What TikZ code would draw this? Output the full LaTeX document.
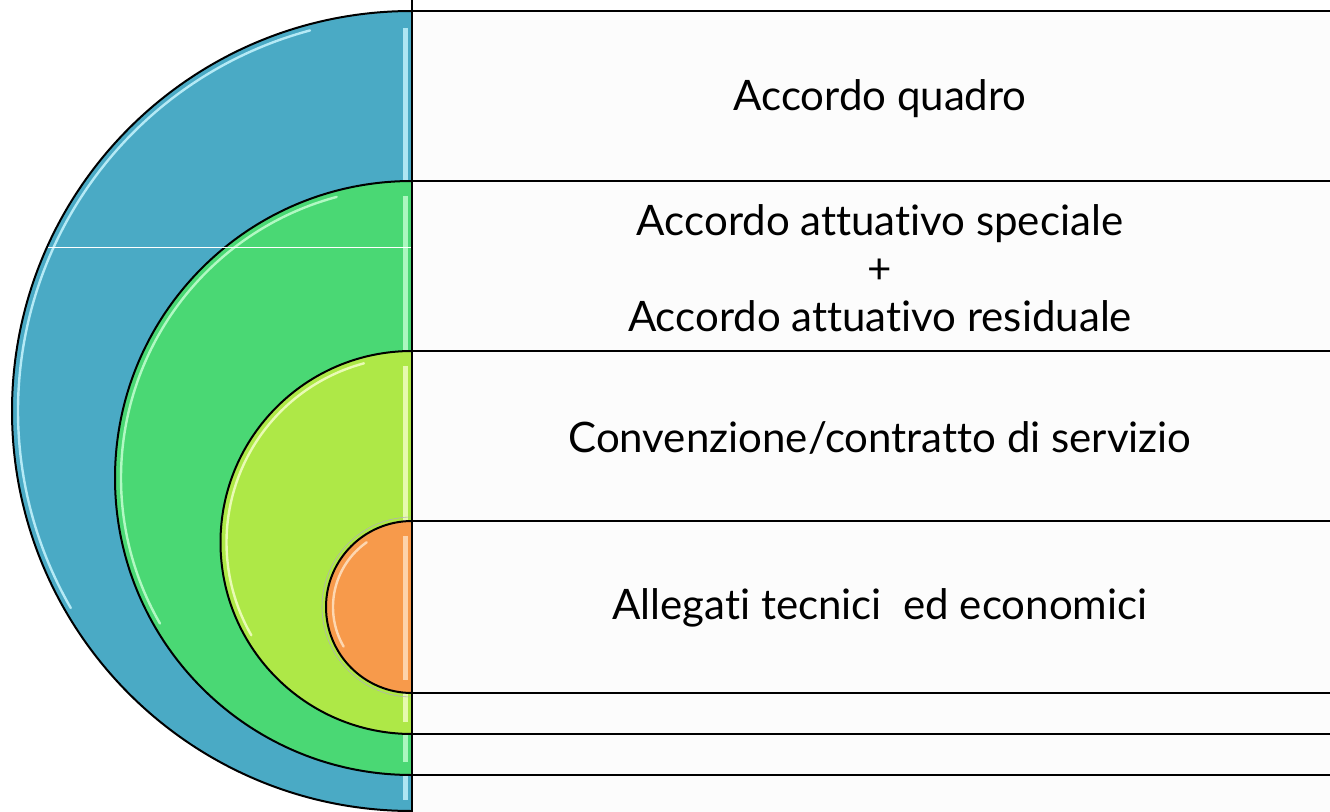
\documentclass[tikz,border=0pt]{standalone}
\usepackage{fontspec}
\setmainfont{Lato}[Ligatures=NoCommon]
\definecolor{cblue}{HTML}{4AAAC5}
\definecolor{cgreen}{HTML}{4AD874}
\definecolor{clime}{HTML}{AEE847}
\definecolor{corange}{HTML}{F79A4B}
\definecolor{hblue}{HTML}{C8F6FF}
\definecolor{hgreen}{HTML}{C4FFD2}
\definecolor{hlime}{HTML}{F4FFC8}
\definecolor{horange}{HTML}{FFE2C4}
\definecolor{boxfill}{HTML}{FCFCFC}
\tikzset{
  half/.style={draw=black, line width=2pt},
  gloss/.style={line width=2.4pt, line cap=round, opacity=0.85},
  rowbox/.style={draw=black, line width=1.8pt, fill=boxfill},
  label/.style={font=\fontsize{42}{46}\selectfont, align=center, text=black, inner sep=0pt}
}
\begin{document}
\begin{tikzpicture}[x=1pt,y=-1pt]
\useasboundingbox (0,0) rectangle (1330,811);
\fill[white] (0,0) rectangle (1330,811);
\begin{scope}
\clip (0,0) rectangle (1330,811);
% blue: top 11, r 400
\path[half, fill=cblue] (412,11) arc[start angle=270, end angle=90, radius=400] -- cycle;
\draw[gloss, hblue] (412,411) ++(255:394) arc[start angle=255, end angle=150, radius=394];
\fill[hblue, opacity=0.8] (403,28) rectangle (408,800);
% green: top 181, r 297
\path[half, fill=cgreen] (412,181) arc[start angle=270, end angle=90, radius=297] -- cycle;
\draw[gloss, hgreen] (412,478) ++(255:291) arc[start angle=255, end angle=150, radius=291];
\fill[hgreen, opacity=0.8] (403,196) rectangle (408,762);
% lime: top 351, r 191.5
\path[half, fill=clime] (412,351) arc[start angle=270, end angle=90, radius=191.5] -- cycle;
\draw[gloss, hlime] (412,542.5) ++(255:185.5) arc[start angle=255, end angle=150, radius=185.5];
\fill[hlime, opacity=0.8] (403,366) rectangle (408,722);
% orange: top 521, r 86
\draw[gray!60, line width=0.6pt] (412,517) arc[start angle=270, end angle=90, radius=90];
\path[half, fill=corange] (412,521) arc[start angle=270, end angle=90, radius=86] -- cycle;
\draw[gloss, horange] (412,607) ++(235:79) arc[start angle=235, end angle=150, radius=79];
\fill[horange, opacity=0.8] (403,536) rectangle (408,680);
% thin white artifact line
\draw[white, line width=0.8pt] (48,247) -- (412,247);
% right rows
\draw[rowbox] (412,11) rectangle (1345,181);
\draw[rowbox] (412,181) rectangle (1345,351);
\draw[rowbox] (412,351) rectangle (1345,521);
\draw[rowbox] (412,521) rectangle (1345,693);
\draw[rowbox] (412,693) rectangle (1345,734);
\draw[rowbox] (412,734) rectangle (1345,775);
\draw[rowbox] (412,775) rectangle (1345,830);
\draw[black, line width=2pt] (412,0) -- (412,811);
\end{scope}
\node[label] (t1) at (880,99) {Accordo quadro};
\node[label] (t2) at (880,268) {Accordo attuativo speciale\\[2pt]+\\[2pt]Accordo attuativo residuale};
\node[label] (t3) at (880,438) {Convenzione/contratto di servizio};
\node[label] (t4) at (880,608) {Allegati tecnici\ \ ed economici};
\end{tikzpicture}
\end{document}
